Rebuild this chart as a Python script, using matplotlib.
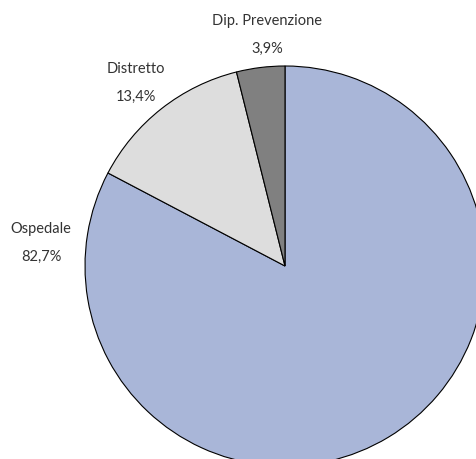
import matplotlib
matplotlib.use("Agg")
import matplotlib.pyplot as plt

categories = ["Ospedale", "Distretto", "Dip. Prevenzione"]
shares = [82.7, 13.4, 3.9]
pct_labels = ["82,7%", "13,4%", "3,9%"]

colors = ["#A9B6D8", "#DDDDDD", "#808080"]
# label centres in pixel coords (x from left, y from top)
label_pos = [(41, 243), (136, 83), (267, 35)]


def main():
    fig = plt.figure(figsize=(4.77, 4.60), dpi=100)
    ax = fig.add_axes([0, 0, 1, 1])

    # pie drawn in flipped y, so counterclock=True turns visually clockwise
    ax.pie(shares, colors=colors, startangle=-90, counterclock=True,
           center=(285, 267), radius=200, frame=True,
           wedgeprops=dict(edgecolor="black", linewidth=0.8))
    ax.set_xlim(0, 477)
    ax.set_ylim(460, 0)
    ax.axis("off")

    for name, pct, (x, y) in zip(categories, pct_labels, label_pos):
        ax.text(x, y - 14, name, ha="center", va="center",
                fontsize=10.5, family="Lato", color="#333333")
        ax.text(x, y + 14, pct, ha="center", va="center",
                fontsize=10.5, family="Lato", color="#333333")

    fig.savefig("out.png", dpi=100)


if __name__ == "__main__":
    main()
